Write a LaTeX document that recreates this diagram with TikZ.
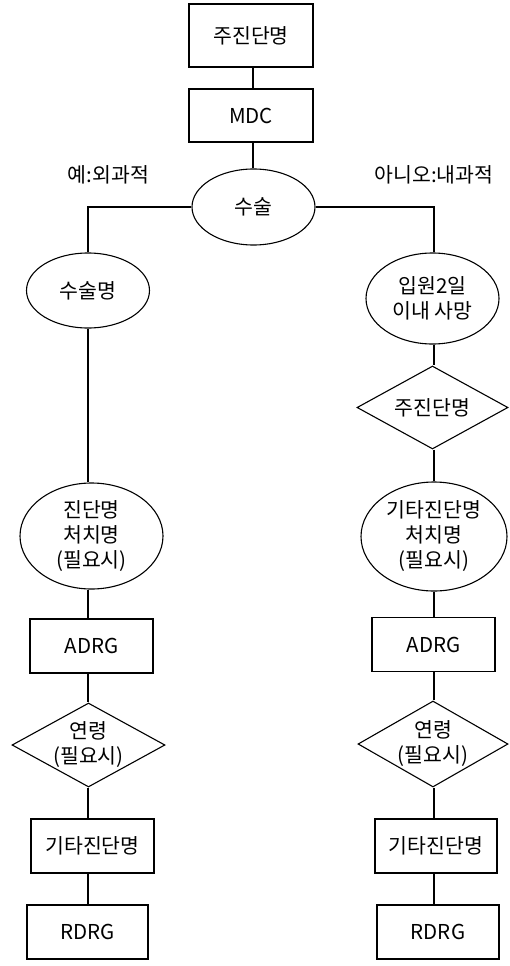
\documentclass[tikz,border=0pt]{standalone}
\usepackage{fontspec}
\setmainfont{Noto Sans CJK KR}
\usetikzlibrary{shapes.geometric}
\begin{document}
\begin{tikzpicture}[x=1pt,y=-1pt,
  txt/.style={font=\fontsize{20.5}{25}\selectfont, inner sep=0pt, align=center},
  box/.style={txt, draw, line width=1.1pt, rectangle, minimum width=123pt, minimum height=54pt},
  oval/.style={txt, draw, line width=1.1pt, ellipse},
  dia/.style={draw, line width=1.1pt, diamond, inner sep=0pt},
  link/.style={line width=1.1pt}]
\useasboundingbox (0,0) rectangle (509,966);
\coordinate (tcol) at (253,0);
\coordinate (lcol) at (88,0);
\coordinate (rcol) at (434,0);

% trunk
\node[box, minimum width=124pt, minimum height=63pt] (main) at (251,35.5) {주진단명};
\node[box, minimum width=124pt, minimum height=53pt] (mdc) at (251,115.5) {MDC};
\node[oval, minimum width=123pt, minimum height=76pt] (surg) at (253.5,207) {수술};
\node[txt] (yes) at (108.5,175) {예:외과적};
\node[txt] (no) at (434,175) {아니오:내과적};

% surgical branch
\node[oval, minimum width=123pt, minimum height=75pt] (opname) at (88,290.5) {수술명};
\node[oval, minimum width=143pt, minimum height=106pt] (ldx) at (91.5,536) {진단명\\처치명\\(필요시)};
\node[box] (ladrg) at (91.5,646) {ADRG};
\node[dia, minimum width=153pt, minimum height=84pt] (lage) at (88.5,745) {};
\node[txt] (lagetxt) at (lage.center) {연령\\(필요시)};
\node[box] (lother) at (92.5,846) {기타진단명};
\node[box, minimum width=121pt] (lrdrg) at (87.5,932) {RDRG};

% medical branch
\node[oval, minimum width=133pt, minimum height=91pt] (death) at (432.5,298.5) {입원2일\\이내 사망};
\node[dia, minimum width=151pt, minimum height=83pt] (rmain) at (432.5,407.5) {};
\node[txt] (rmaintxt) at (rmain.center) {주진단명};
\node[oval, minimum width=146pt, minimum height=109pt] (rdx) at (434,536.5) {기타진단명\\처치명\\(필요시)};
\node[box] (radrg) at (433.5,644.5) {ADRG};
\node[dia, minimum width=150pt, minimum height=86pt] (rage) at (433,744) {};
\node[txt] (ragetxt) at (rage.center) {연령\\(필요시)};
\node[box, minimum width=122pt] (rother) at (436,846) {기타진단명};
\node[box, minimum width=122pt] (rrdrg) at (438,932) {RDRG};

% connectors
\draw[link] (tcol |- main.south) -- (tcol |- mdc.north);
\draw[link] (tcol |- mdc.south) -- (tcol |- surg.north);
\draw[link] (surg.west) -| (lcol |- opname.north);
\draw[link] (surg.east) -| (rcol |- death.north);

\draw[link] (lcol |- opname.south) -- (lcol |- ldx.north);
\draw[link] (lcol |- ldx.south) -- (lcol |- ladrg.north);
\draw[link] (lcol |- ladrg.south) -- (lcol |- lage.north);
\draw[link] (lcol |- lage.south) -- (lcol |- lother.north);
\draw[link] (lcol |- lother.south) -- (lcol |- lrdrg.north);

\draw[link] (rcol |- death.south) -- (rcol |- rmain.north);
\draw[link] (rcol |- rmain.south) -- (rcol |- rdx.north);
\draw[link] (rcol |- rdx.south) -- (rcol |- radrg.north);
\draw[link] (rcol |- radrg.south) -- (rcol |- rage.north);
\draw[link] (rcol |- rage.south) -- (rcol |- rother.north);
\draw[link] (rcol |- rother.south) -- (rcol |- rrdrg.north);
\end{tikzpicture}
\end{document}
